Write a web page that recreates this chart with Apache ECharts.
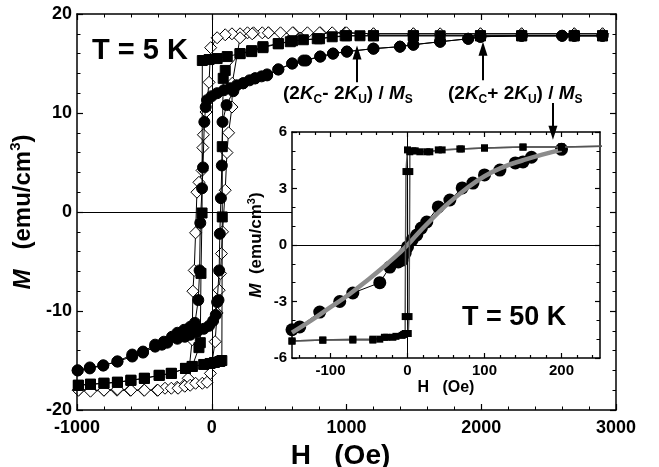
<!DOCTYPE html>
<html>
<head>
<meta charset="utf-8">
<script src="https://cdn.jsdelivr.net/npm/echarts@6/dist/echarts.min.js"></script>
<style>
  html, body { margin: 0; padding: 0; background: #fff; }
  #chart { width: 659px; height: 467px; }
</style>
</head>
<body>
<div id="chart"></div>
<script>
// M(H) loops at 5 K (main) and 50 K (inset). Each loop is kept as its
// descending branch (high H -> low H) and ascending branch (low H -> high H).

// --- main panel, T = 5 K ---
const diaDownH = [2900, 2690, 2300, 1994, 1695, 1496, 1200, 990, 894, 805, 710, 605, 510, 420, 375, 310, 265, 210, 150, 100, 40, -8, -20, -43, -62, -66, -72, -95, -110, -120, -130, -140, -145, -175, -205, -257, -347, -405, -503, -605, -703, -800, -903, -990]
const diaDownM = [18.0, 18.0, 18.0, 18.0, 18.0, 18.0, 18.0, 18.1, 18.1, 18.1, 18.1, 18.1, 18.1, 18.1, 18.1, 18.1, 18.1, 18.0, 18.0, 17.9, 17.6, 16.6, 13.1, 10.1, 7.8, 6.5, 4.2, 3.0, 2.0, -2.1, -5.9, -8.0, -12.9, -16.8, -17.5, -17.7, -17.8, -18.0, -18.0, -18.0, -18.0, -18.0, -18.0, -18.0]
const diaUpH = [-990, -900, -800, -700, -600, -500, -400, -300, -250, -200, -160, -120, -70, -35, -10, 25, 40, 55, 65, 72, 80, 100, 113, 125, 150, 152, 210, 300, 420, 600, 800, 1000, 1200, 1496, 1994, 2300, 2690, 2900]
const diaUpM = [-18.0, -18.1, -18.0, -17.9, -18.0, -18.0, -18.0, -17.8, -17.8, -17.6, -17.5, -17.3, -17.3, -17.2, -16.3, -13.1, -10.2, -7.9, -6.2, -4.2, -2.0, 2.2, 6.0, 8.0, 10.6, 13.0, 17.6, 18.0, 18.1, 18.1, 18.1, 18.1, 18.0, 18.0, 18.0, 18.0, 18.0, 18.0]

const sqDownH = [2900, 2690, 2300, 1994, 1695, 1496, 1200, 1100, 990, 894, 783, 680, 583, 494, 380, 296, 210, 115, 40, -20, -70, -72, -80, -85, -95, -145, -195, -300, -390, -500, -600, -700, -800, -900, -990]
const sqDownM = [17.8, 17.8, 17.8, 17.8, 17.8, 17.8, 17.8, 17.8, 17.8, 17.7, 17.5, 17.4, 17.2, 17.0, 16.6, 16.2, 16.0, 15.7, 15.5, 15.4, 15.3, -0.1, -6.2, -13.2, -13.7, -15.6, -15.8, -16.3, -16.5, -16.8, -17.0, -17.2, -17.3, -17.4, -17.5]
const sqUpH = [-990, -900, -800, -700, -600, -500, -390, -300, -195, -145, -60, -12, 20, 60, 75, 78, 78, 85, 100, 210, 296, 380, 494, 600, 800, 1000, 1200, 1496, 1994, 2300, 2690, 2900]
const sqUpM = [-17.5, -17.4, -17.3, -17.2, -17.0, -16.8, -16.5, -16.3, -15.8, -15.6, -15.4, -15.3, -15.2, -15.1, -15.0, -0.5, 6.6, 13.5, 14.3, 16.0, 16.3, 16.7, 17.0, 17.3, 17.5, 17.8, 17.8, 17.8, 17.8, 17.8, 17.8, 17.8]

const ciDownH = [2900, 2690, 2600, 2300, 1994, 1903, 1695, 1496, 1397, 1200, 1003, 900, 805, 680, 597, 494, 411, 370, 322, 280, 233, 185, 136, 90, 40, 0, -35, -45, -55, -65, -72, -85, -90, -100, -125, -160, -205, -255, -295, -355, -420, -510, -590, -700, -805, -905, -995]
const ciDownM = [17.8, 17.8, 17.8, 17.8, 17.7, 17.5, 17.2, 16.9, 16.7, 16.5, 16.2, 16.0, 15.7, 15.3, 15.0, 14.4, 13.8, 13.7, 13.5, 13.3, 13.0, 12.8, 12.5, 12.3, 12.0, 11.7, 11.3, 10.6, 9.1, 4.5, 2.4, -1.1, -5.9, -8.9, -11.2, -11.6, -11.9, -12.2, -12.6, -13.1, -13.4, -14.1, -14.4, -15.1, -15.5, -15.7, -16.0]
const ciUpH = [-995, -905, -805, -700, -590, -510, -420, -370, -330, -255, -200, -160, -110, -60, -20, 10, 30, 40, 50, 55, 60, 68, 75, 80, 110, 160, 233, 322, 411, 494, 597, 700, 805, 900, 1003, 1200, 1397, 1496, 1695, 1903, 1994, 2300, 2600, 2690, 2900]
const ciUpM = [-16.0, -15.8, -15.5, -15.1, -14.6, -14.2, -13.6, -13.4, -13.2, -12.8, -12.6, -12.4, -12.1, -11.8, -11.5, -11.0, -10.4, -9.1, -8.9, -5.9, -2.2, 1.4, 4.7, 9.1, 10.8, 12.2, 13.0, 13.5, 13.9, 14.4, 15.0, 15.3, 15.7, 16.0, 16.2, 16.5, 16.7, 16.9, 17.2, 17.5, 17.7, 17.8, 17.8, 17.8, 17.8]

// --- inset, T = 50 K ---
const inSqDownH = [260, 200, 150, 100, 68, 40, 29, 16, 7, 0, -2, -3, -3, -7, -19, -27, -36, -45, -71, -110, -150]
const inSqDownM = [5.25, 5.2, 5.2, 5.15, 5.1, 5.05, 4.95, 4.95, 5.0, 5.05, 3.9, -3.8, -4.7, -4.8, -4.9, -4.9, -5.0, -5.05, -5.05, -5.05, -5.1]
const inSqUpH = [-150, -110, -71, -45, -30, -15, -5, 1, 2, 3, 3, 10, 25, 45, 70, 100, 150, 200, 260]
const inSqUpM = [-5.1, -5.05, -5.0, -5.0, -4.9, -4.85, -4.75, -4.7, -3.8, 3.9, 4.95, 5.0, 4.95, 5.05, 5.1, 5.15, 5.2, 5.2, 5.25]
const inCiH = [-150, -140, -114, -88, -71, -36, -23, -12, -7, -3, 0, 6, 12, 18, 25, 40, 55, 71, 85, 100, 120, 140, 150, 161, 200]
const inCiM = [-4.5, -4.35, -3.56, -3.0, -2.55, -2.0, -1.17, -0.9, -0.8, -0.43, -0.1, 0.27, 0.53, 0.9, 1.22, 2.02, 2.39, 3.03, 3.29, 3.72, 3.98, 4.36, 4.41, 4.66, 5.08]
// grey fitted curve through the 50 K circles
const fitH = [-150, -125, -100, -75, -50, -25, -10, 0, 10, 25, 50, 75, 100, 125, 150, 175, 200]
const fitM = [-4.65, -4.0, -3.3, -2.6, -1.8, -0.95, -0.4, 0, 0.45, 1.1, 2.1, 2.95, 3.65, 4.15, 4.5, 4.8, 5.05]

// inset tick values (range -150..250 is not a multiple of 100)
const inMajorTicks = [-100, 0, 100, 200]
const inMinorTicks = [-140, -120, -80, -60, -40, -20, 20, 40, 60, 80, 120, 140, 160, 180, 220, 240]

// arrows: [H, M from, M to] in main-panel units (end = centre of arrow head)
const arrowMarks = [[1078, 13.1, 16.1], [2013, 13.3, 16.5], [2532, 11.0, 8.0]]

const FONT = '"Liberation Sans", Arial, Helvetica, sans-serif'

function zip(h, m) {
  return h.map(function (x, i) { return [x, m[i]] })
}

function frameAxis(opt) {
  // one side of a boxed frame: line + inward ticks, labels only where asked
  const ax = {
    gridIndex: opt.grid,
    type: 'value',
    position: opt.position,
    min: opt.min,
    max: opt.max,
    axisLine: { show: opt.line !== false, onZero: false, lineStyle: { color: '#000', width: 1.5 } },
    axisTick: { show: true, inside: true, length: opt.tickLen || 6, lineStyle: { color: '#000', width: 1.2 } },
    minorTick: { show: !!opt.minor, splitNumber: opt.minor || 5, length: 3.5, lineStyle: { color: '#000', width: 1 } },
    axisLabel: {
      show: !!opt.label, color: '#000', fontFamily: FONT, fontWeight: 'bold',
      fontSize: opt.fontSize || 18, margin: opt.margin || 6,
      formatter: function (v) { return String(v) }
    },
    splitLine: { show: false },
    z: 4
  }
  if (opt.interval != null) ax.interval = opt.interval
  if (opt.ticks) ax.axisTick.customValues = opt.ticks
  if (opt.labels) ax.axisLabel.customValues = opt.labels
  return ax
}

function loopSeries(h, m, symbol, size, fill, z) {
  return {
    type: 'line', xAxisIndex: 0, yAxisIndex: 0,
    data: zip(h, m),
    symbol: symbol, symbolSize: size, showAllSymbol: true,
    lineStyle: { color: '#000', width: 1 },
    itemStyle: { color: fill, borderColor: '#000', borderWidth: 1 },
    z: z, silent: true
  }
}

const sub = { fontFamily: FONT, fontWeight: 'bold', fontSize: 12, padding: [12, 0, 0, 0], verticalAlign: 'middle', fill: '#000' }
const annoRich = {
  n: { fontFamily: FONT, fontWeight: 'bold', fontSize: 19, verticalAlign: 'middle', fill: '#000' },
  i: { fontFamily: FONT, fontWeight: 'bold', fontStyle: 'italic', fontSize: 19, verticalAlign: 'middle', fill: '#000' },
  s: sub
}

function axisNameRich(size, supSize) {
  return {
    i: { fontFamily: FONT, fontWeight: 'bold', fontStyle: 'italic', fontSize: size, color: '#000' },
    n: { fontFamily: FONT, fontWeight: 'bold', fontSize: size, color: '#000' },
    p: { fontFamily: FONT, fontWeight: 'bold', fontSize: supSize, color: '#000', padding: [0, 0, Math.round(size * 0.6), 0] }
  }
}

const chart = echarts.init(document.getElementById('chart'))

const mainX = frameAxis({ grid: 0, position: 'bottom', min: -1000, max: 3000, interval: 1000, minor: 5, label: true, margin: 9 })
mainX.name = 'H   (Oe)'
mainX.nameLocation = 'middle'
mainX.nameGap = 30
mainX.nameTextStyle = { fontFamily: FONT, fontWeight: 'bold', fontSize: 28, color: '#000', padding: [0, 12, 0, 0] }

const mainY = frameAxis({ grid: 0, position: 'left', min: -20, max: 20, interval: 10, minor: 5, label: true, margin: 5 })
mainY.name = '{i|M}{n|   (emu/cm}{p|3}{n|)}'
mainY.nameLocation = 'middle'
mainY.nameGap = 32
mainY.nameTextStyle = { rich: axisNameRich(24, 15) }

const inX = frameAxis({ grid: 1, position: 'bottom', min: -150, max: 250, ticks: inMajorTicks, labels: inMajorTicks, label: true, fontSize: 15, margin: 5, tickLen: 5 })
inX.name = 'H   (Oe)'
inX.nameLocation = 'middle'
inX.nameGap = 22
inX.nameTextStyle = { fontFamily: FONT, fontWeight: 'bold', fontSize: 16, color: '#000' }

const inY = frameAxis({ grid: 1, position: 'left', min: -6, max: 6, interval: 3, minor: 3, label: true, fontSize: 15, margin: 5, tickLen: 5 })
inY.name = '{i|M}{n|  (emu/cm}{p|3}{n|)}'
inY.nameLocation = 'middle'
inY.nameGap = 25
inY.nameTextStyle = { rich: axisNameRich(17, 11) }

const option = {
  animation: false,
  backgroundColor: '#fff',
  textStyle: { fontFamily: FONT },
  grid: [
    { left: 77, top: 14, width: 539, height: 396, outerBoundsMode: 'none', containLabel: false },
    { left: 292, top: 132, width: 308, height: 226, outerBoundsMode: 'none', containLabel: false }
  ],
  xAxis: [
    mainX,
    frameAxis({ grid: 0, position: 'top', min: -1000, max: 3000, interval: 1000, minor: 5 }),
    inX,
    frameAxis({ grid: 1, position: 'top', min: -150, max: 250, ticks: inMajorTicks, tickLen: 5 }),
    frameAxis({ grid: 1, position: 'bottom', min: -150, max: 250, ticks: inMinorTicks, tickLen: 3, line: false }),
    frameAxis({ grid: 1, position: 'top', min: -150, max: 250, ticks: inMinorTicks, tickLen: 3, line: false })
  ],
  yAxis: [
    mainY,
    frameAxis({ grid: 0, position: 'right', min: -20, max: 20, interval: 10, minor: 5 }),
    inY,
    frameAxis({ grid: 1, position: 'right', min: -6, max: 6, interval: 3, minor: 3, tickLen: 5 })
  ],
  series: [
    Object.assign(loopSeries(diaDownH, diaDownM, 'diamond', 12, '#fff', 2), {
      markLine: {
        silent: true, symbol: ['none', 'none'], label: { show: false },
        lineStyle: { color: '#000', width: 1, type: 'solid' },
        data: [
          [{ coord: [-1000, 0] }, { coord: [596, 0] }],
          [{ coord: [0, -20] }, { coord: [0, 20] }]
        ]
      }
    }),
    loopSeries(diaUpH, diaUpM, 'diamond', 12, '#fff', 2),
    loopSeries(sqDownH, sqDownM, 'rect', 10, '#000', 3),
    loopSeries(sqUpH, sqUpM, 'rect', 10, '#000', 3),
    loopSeries(ciDownH, ciDownM, 'circle', 11, '#000', 4),
    Object.assign(loopSeries(ciUpH, ciUpM, 'circle', 11, '#000', 4), {
      markLine: {
        silent: true, label: { show: false },
        lineStyle: { color: '#000', width: 2, type: 'solid' },
        data: arrowMarks.map(function (a) {
          return [
            { coord: [a[0], a[1]], symbol: 'none' },
            { coord: [a[0], a[2]], symbol: 'triangle', symbolSize: [9, 14] }
          ]
        })
      }
    }),
    {
      type: 'line', xAxisIndex: 2, yAxisIndex: 2,
      data: zip(inCiH, inCiM),
      symbol: 'circle', symbolSize: 13, showAllSymbol: true,
      lineStyle: { color: '#000', width: 1 },
      itemStyle: { color: '#000' },
      z: 5, silent: true,
      markLine: {
        silent: true, symbol: ['none', 'none'], label: { show: false },
        lineStyle: { color: '#000', width: 1, type: 'solid' },
        data: [
          [{ coord: [-150, 0] }, { coord: [250, 0] }],
          [{ coord: [0, -6] }, { coord: [0, 6] }]
        ]
      }
    },
    {
      type: 'line', xAxisIndex: 2, yAxisIndex: 2,
      data: zip(fitH, fitM),
      symbol: 'none', smooth: true,
      lineStyle: { color: '#8c8c8c', width: 4.5 },
      z: 6, silent: true
    },
    {
      type: 'line', xAxisIndex: 2, yAxisIndex: 2,
      data: zip(inSqDownH, inSqDownM),
      symbol: 'rect', symbolSize: 7, showAllSymbol: true,
      lineStyle: { color: '#555', width: 1.5 },
      itemStyle: { color: '#000' },
      z: 7, silent: true
    },
    {
      type: 'line', xAxisIndex: 2, yAxisIndex: 2,
      data: zip(inSqUpH, inSqUpM),
      symbol: 'rect', symbolSize: 7, showAllSymbol: true,
      lineStyle: { color: '#555', width: 1.5 },
      itemStyle: { color: '#000' },
      z: 7, silent: true
    }
  ],
  graphic: [
    {
      type: 'text', x: 92, y: 51, z: 10,
      style: { text: 'T = 5 K', font: 'bold 29px ' + FONT, fill: '#000', verticalAlign: 'middle', textVerticalAlign: 'middle' }
    },
    {
      type: 'text', x: 283, y: 94, z: 10,
      style: { text: '{n|(2}{i|K}{s|C}{n|- 2}{i|K}{s|U}{n|) / }{i|M}{s|S}', rich: annoRich, fill: '#000', verticalAlign: 'middle', textVerticalAlign: 'middle' }
    },
    {
      type: 'text', x: 448, y: 94, z: 10,
      style: { text: '{n|(2}{i|K}{s|C}{n|+ 2}{i|K}{s|U}{n|) / }{i|M}{s|S}', rich: annoRich, fill: '#000', verticalAlign: 'middle', textVerticalAlign: 'middle' }
    },
    {
      type: 'text', x: 462, y: 318, z: 10,
      style: { text: 'T = 50 K', font: 'bold 27px ' + FONT, fill: '#000', verticalAlign: 'middle', textVerticalAlign: 'middle' }
    }
  ]
}

chart.setOption(option)
</script>
</body>
</html>
